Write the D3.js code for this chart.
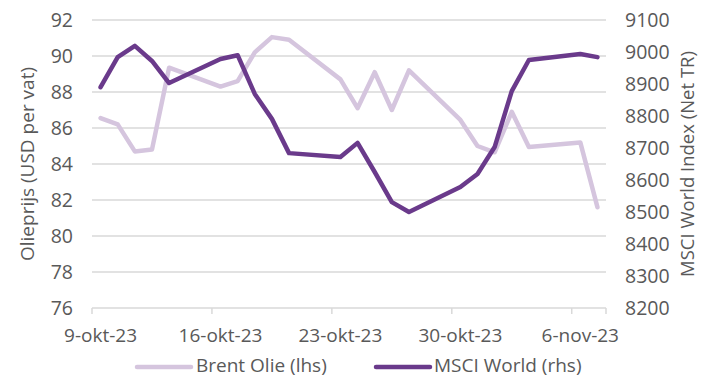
<!DOCTYPE html>
<html>
<head>
<meta charset="utf-8">
<script src="https://cdn.jsdelivr.net/npm/d3@7"></script>
<style>
  html, body { margin: 0; padding: 0; background: #fff; }
  svg { display: block; }
  text { font-family: "Open Sans", sans-serif; fill: #595959; }
</style>
</head>
<body>
<svg id="chart" width="701" height="378"></svg>
<script>
const dates = ["2023-10-09","2023-10-10","2023-10-11","2023-10-12","2023-10-13",
  "2023-10-16","2023-10-17","2023-10-18","2023-10-19","2023-10-20",
  "2023-10-23","2023-10-24","2023-10-25","2023-10-26","2023-10-27",
  "2023-10-30","2023-10-31","2023-11-01","2023-11-02","2023-11-03",
  "2023-11-06","2023-11-07"];
const brent = [86.55, 86.2, 84.7, 84.8, 89.35,
  88.3, 88.6, 90.2, 91.05, 90.9,
  88.7, 87.1, 89.1, 87.0, 89.2,
  86.45, 85.0, 84.65, 86.9, 84.95,
  85.2, 81.6];
const msci = [8890, 8984, 9019, 8972, 8903,
  8978, 8990, 8869, 8791, 8684,
  8672, 8716, 8625, 8531, 8500,
  8578, 8619, 8703, 8878, 8975,
  8994, 8984];
const xTickLabels = ["9-okt-23","16-okt-23","23-okt-23","30-okt-23","6-nov-23"];
const xTickDates = ["2023-10-09","2023-10-16","2023-10-23","2023-10-30","2023-11-06"];
const leftTicks = [76,78,80,82,84,86,88,90,92];
const rightTicks = [8200,8300,8400,8500,8600,8700,8800,8900,9000,9100];
const seriesNames = ["Brent Olie (lhs)", "MSCI World (rhs)"];
const colors = ["#d5c5de", "#6a3a8b"];

const parse = d3.utcParse("%Y-%m-%d");
const halfDay = 12 * 3600 * 1000;
const svg = d3.select("#chart");
const L = 92, R = 606, T = 20, B = 308;

const x = d3.scaleUtc().domain([parse("2023-10-09"), parse("2023-11-08")]).range([L, R]);
const yL = d3.scaleLinear().domain([76, 92]).range([B, T]);
const yR = d3.scaleLinear().domain([8200, 9100]).range([B, T]);

// gridlines
svg.append("g").selectAll("line").data(leftTicks).join("line")
  .attr("x1", L).attr("x2", R)
  .attr("y1", d => yL(d)).attr("y2", d => yL(d))
  .attr("stroke", "#d9d9d9").attr("stroke-width", 1.5);

// x tick marks
svg.append("g").selectAll("line").data(xTickDates.concat(["2023-11-08"])).join("line")
  .attr("x1", d => x(parse(d))).attr("x2", d => x(parse(d)))
  .attr("y1", B).attr("y2", B + 6)
  .attr("stroke", "#d9d9d9").attr("stroke-width", 1.5);

// x labels
svg.append("g").selectAll("text").data(xTickDates).join("text")
  .attr("x", d => x(new Date(+parse(d) + halfDay)))
  .attr("y", 342)
  .attr("text-anchor", "middle")
  .attr("font-size", 19)
  .text((d, i) => xTickLabels[i]);

// left labels
svg.append("g").selectAll("text").data(leftTicks).join("text")
  .attr("x", 73).attr("y", d => yL(d) + 7)
  .attr("text-anchor", "end").attr("font-size", 19.5)
  .text(d => d);

// right labels
svg.append("g").selectAll("text").data(rightTicks).join("text")
  .attr("x", 625).attr("y", d => yR(d) + 7)
  .attr("text-anchor", "start").attr("font-size", 19.5)
  .text(d => d);

// axis titles
svg.append("text")
  .attr("transform", `translate(34,${(T + B) / 2}) rotate(-90)`)
  .attr("text-anchor", "middle").attr("font-size", 19)
  .text("Olieprijs (USD per vat)");
svg.append("text")
  .attr("transform", `translate(694,${(T + B) / 2}) rotate(-90)`)
  .attr("text-anchor", "middle").attr("font-size", 18.5)
  .text("MSCI World Index (Net TR)");

// lines
const pts = dates.map(d => new Date(+parse(d) + halfDay));
const lineL = d3.line().x((d, i) => x(pts[i])).y(d => yL(d));
const lineR = d3.line().x((d, i) => x(pts[i])).y(d => yR(d));
svg.append("path").datum(brent).attr("d", lineL)
  .attr("fill", "none").attr("stroke", colors[0]).attr("stroke-width", 4.5)
  .attr("stroke-linejoin", "round").attr("stroke-linecap", "round");
svg.append("path").datum(msci).attr("d", lineR)
  .attr("fill", "none").attr("stroke", colors[1]).attr("stroke-width", 4.5)
  .attr("stroke-linejoin", "round").attr("stroke-linecap", "round");

// legend
const legend = [{x1: 137, x2: 191, tx: 196}, {x1: 376, x2: 430, tx: 434}];
legend.forEach((l, i) => {
  svg.append("line").attr("x1", l.x1).attr("x2", l.x2).attr("y1", 367).attr("y2", 367)
    .attr("stroke", colors[i]).attr("stroke-width", 4.5).attr("stroke-linecap", "round");
  svg.append("text").attr("x", l.tx).attr("y", 372).attr("font-size", 19).text(seriesNames[i]);
});
</script>
</body>
</html>
